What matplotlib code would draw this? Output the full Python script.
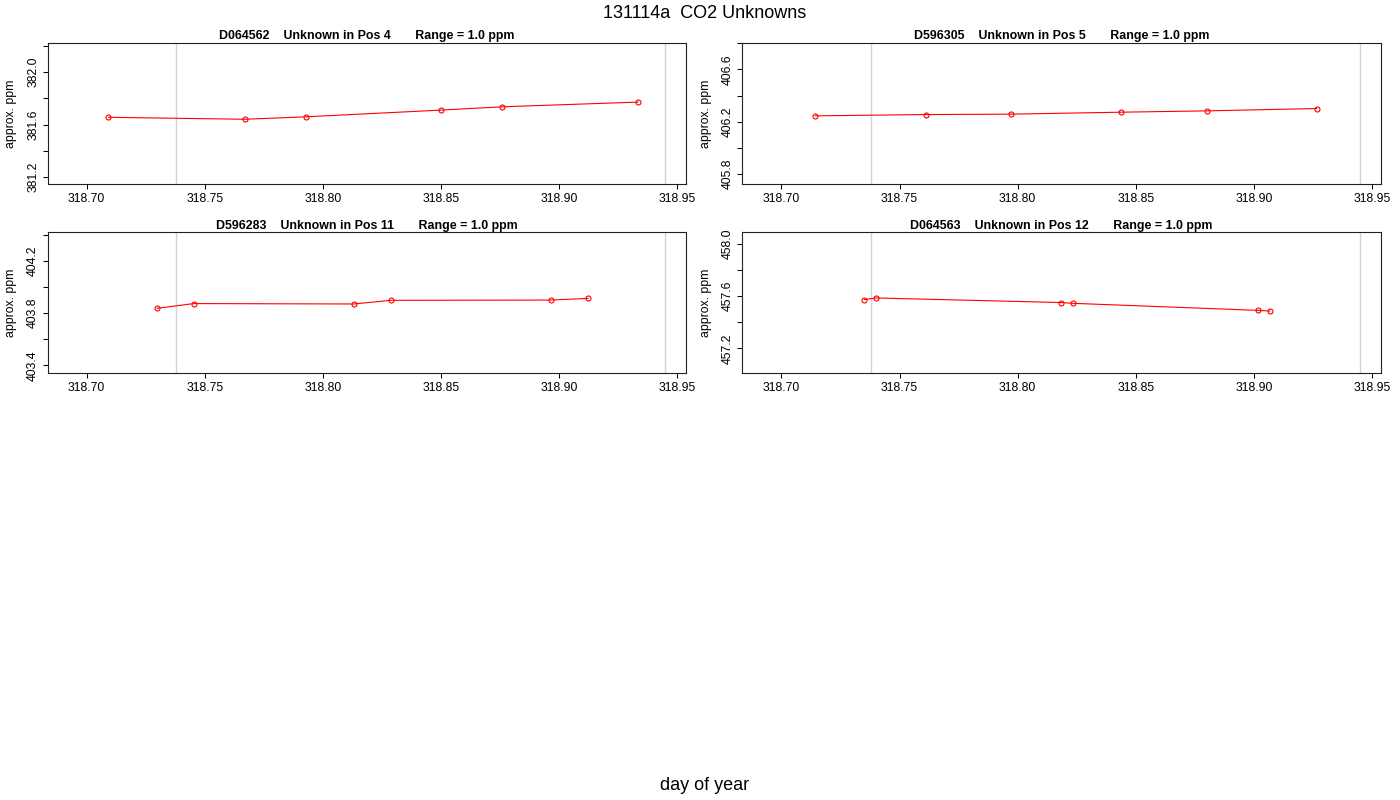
import numpy as np
import matplotlib
matplotlib.use("Agg")
import matplotlib.pyplot as plt

plt.rcParams['font.family'] = ['Liberation Sans', 'DejaVu Sans']

# cylinder ids and positions
tank_ids = ["D064562", "D596305", "D596283", "D064563"]
tank_pos = [4, 5, 11, 12]

# day of year / approx ppm for each unknown
day_pos4 = [318.7092, 318.7670, 318.7930, 318.8500, 318.8758, 318.9334]
ppm_pos4 = [381.656, 381.641, 381.660, 381.711, 381.736, 381.772]
day_pos5 = [318.7143, 318.7610, 318.7972, 318.8438, 318.8800, 318.9265]
ppm_pos5 = [406.245, 406.255, 406.258, 406.273, 406.283, 406.301]
day_pos11 = [318.7298, 318.7453, 318.8131, 318.8288, 318.8965, 318.9122]
ppm_pos11 = [403.838, 403.874, 403.871, 403.899, 403.901, 403.914]
day_pos12 = [318.7351, 318.7402, 318.8183, 318.8234, 318.9016, 318.9067]
ppm_pos12 = [457.575, 457.587, 457.552, 457.546, 457.492, 457.487]

days = [day_pos4, day_pos5, day_pos11, day_pos12]
ppms = [ppm_pos4, ppm_pos5, ppm_pos11, ppm_pos12]

# y range centre for each panel (range = 1.0 ppm)
ppm_mid = [381.685, 406.263, 403.880, 457.550]
ppm_range = 1.0

# run start / end markers
run_lines = [318.738, 318.945]
xticks = [318.70, 318.75, 318.80, 318.85, 318.90, 318.95]
xlim = (318.6835, 318.9537)

W, H = 1400, 800
fig = plt.figure(figsize=(14, 8), dpi=100)

# panel boxes in pixels: left, top, right, bottom
boxes = [(47.7, 42.7, 686.0, 184.3),
         (742.4, 42.7, 1380.8, 184.3),
         (47.7, 232.3, 686.0, 373.3),
         (742.4, 232.3, 1380.8, 373.3)]

for i in range(4):
    l, t, r, b = boxes[i]
    ax = fig.add_axes([l / W, 1 - b / H, (r - l) / W, (b - t) / H])
    for xv in run_lines:
        ax.axvline(xv, color='#d3d3d3', lw=1.0, zorder=1)
    ax.plot(days[i], ppms[i], color='red', lw=0.8, marker='o', ms=3.6,
            mfc='none', mec='red', mew=0.8, zorder=3)

    ax.set_xlim(*xlim)
    half = ppm_range * 1.08 / 2
    lo, hi = ppm_mid[i] - half, ppm_mid[i] + half
    ax.set_ylim(lo, hi)

    ax.set_xticks(xticks)
    ax.set_xticklabels(["%.2f" % v for v in xticks])
    yt = np.arange(np.ceil(lo / 0.2 - 1e-9) * 0.2, hi, 0.2)
    ax.set_yticks(yt)
    ax.set_yticklabels(["%.1f" % v if k % 2 == 0 else "" for k, v in enumerate(yt)],
                       rotation=90, va='center')

    ax.tick_params(axis='both', direction='out', length=3.6, width=0.75,
                   labelsize=8.8, colors='black')
    ax.tick_params(axis='x', pad=2.5)
    ax.tick_params(axis='y', pad=2.5)
    for s in ax.spines.values():
        s.set_color('#222222')
        s.set_linewidth(0.8)

    ax.set_title("%s    Unknown in Pos %d       Range = %.1f ppm"
                 % (tank_ids[i], tank_pos[i], ppm_range),
                 fontsize=8.9, fontweight='bold', pad=2.5)

    fig.text((l - 36.3) / W, 1 - ((t + b) / 2) / H, "approx. ppm",
             rotation=90, ha='center', va='center', fontsize=8.8)

fig.text(705 / W, 1 - 13 / H, "131114a  CO2 Unknowns", ha='center',
         va='center', fontsize=13)
fig.text(704.5 / W, 1 - 785 / H, "day of year", ha='center', va='center',
         fontsize=13)

fig.savefig("out.png", dpi=100)
